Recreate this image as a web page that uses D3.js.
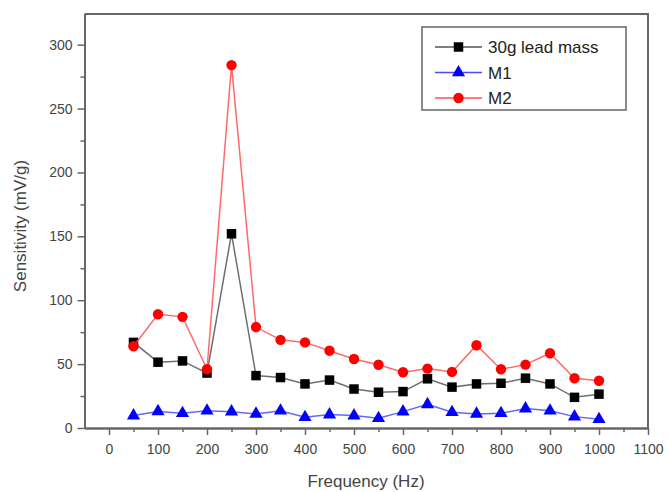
<!DOCTYPE html>
<html><head><meta charset="utf-8">
<script src="https://cdn.jsdelivr.net/npm/d3@7"></script>
<style>body{margin:0;background:#fff;} svg{display:block;font-family:"Liberation Sans",Arial,sans-serif;}</style>
</head><body>
<script>
const freq = [50,100,150,200,250,300,350,400,450,500,550,600,650,700,750,800,850,900,950,1000];
const lead30 = [67,51.5,52.5,43,152,41,39.5,34.5,37.5,30.5,28,28.5,38.5,32,34.5,35,39,34.5,24,26.5];
const m1 = [9.7,13,11.5,13.5,12.8,11,13.5,8.4,10.5,9.7,7.6,12.8,18.5,12.3,11,11.5,15.2,13.5,8.9,6.8];
const m2 = [64,89,87,46,284,79,69,67,60.5,54,49.5,43.6,46.5,43.9,64.8,46,49.6,58.5,38.9,37];
const xTicks = [0,100,200,300,400,500,600,700,800,900,1000,1100];
const yTicks = [0,50,100,150,200,250,300];
const seriesNames = ["30g lead mass","M1","M2"];

const W=669,H=492;
const svg=d3.select("body").append("svg").attr("width",W).attr("height",H);
const x=d3.scaleLinear().domain([-50,1100]).range([84.5,648]);
const y=d3.scaleLinear().domain([0,324]).range([428,14]);
const axisCol="#666", textCol="#444";

// axes
const xa=svg.append("g").attr("transform","translate(0,428)")
  .call(d3.axisBottom(x).tickValues(xTicks).tickSize(7).tickSizeOuter(0).tickFormat(d3.format("d")));
const xm=svg.append("g").attr("transform","translate(0,428)")
  .call(d3.axisBottom(x).tickValues(d3.range(50,1100,100)).tickSize(4).tickFormat("").tickSizeOuter(0));
const ya=svg.append("g").attr("transform","translate(84.5,0)")
  .call(d3.axisLeft(y).tickValues(yTicks).tickSize(7).tickSizeOuter(0));
const ym=svg.append("g").attr("transform","translate(84.5,0)")
  .call(d3.axisLeft(y).tickValues(d3.range(25,324,50)).tickSize(4).tickFormat("").tickSizeOuter(0));
[xa,xm,ya,ym].forEach(g=>{
  g.selectAll("path").attr("stroke",axisCol).attr("stroke-width",2);
  g.selectAll("line").attr("stroke",axisCol).attr("stroke-width",1.5);
  g.selectAll("text").attr("fill",textCol).style("font-size","14px");
});
xa.selectAll("text").attr("dy","1.15em");
ya.selectAll("text").attr("dx","-2");
// top/right frame
svg.append("path").attr("d",`M${x(-50)},${y(324)}H${x(1100)}V${y(0)}`)
  .attr("fill","none").attr("stroke",axisCol).attr("stroke-width",2);

// titles
svg.append("text").attr("x",366).attr("y",487).attr("text-anchor","middle")
  .attr("fill",textCol).style("font-size","17px").text("Frequency (Hz)");
svg.append("text").attr("transform","translate(26,226) rotate(-90)").attr("text-anchor","middle")
  .attr("fill",textCol).style("font-size","17px").text("Sensitivity (mV/g)");

const series=[
  {name:seriesNames[0],vals:lead30,line:"#555",fill:"#000",shape:d3.symbolSquare,size:90},
  {name:seriesNames[1],vals:m1,line:"#4a4aff",fill:"#0000ff",shape:d3.symbolTriangle,size:75},
  {name:seriesNames[2],vals:m2,line:"#ff5050",fill:"#ff0000",shape:d3.symbolCircle,size:85}
];
const line=d3.line().x(d=>x(d[0])).y(d=>y(d[1]));
series.forEach(s=>{
  const pts=freq.map((f,i)=>[f,s.vals[i]]);
  svg.append("path").datum(pts).attr("d",line).attr("fill","none")
    .attr("stroke",s.line).attr("stroke-width",1.5).attr("opacity",0.85);
  svg.append("g").selectAll("path").data(pts).join("path")
    .attr("transform",d=>`translate(${x(d[0])},${y(d[1])})`)
    .attr("d",d3.symbol().type(s.shape).size(s.size)).attr("fill",s.fill);
});

// legend
const lg=svg.append("g");
lg.append("rect").attr("x",422).attr("y",27).attr("width",204).attr("height",83)
  .attr("fill","#fff").attr("stroke",axisCol).attr("stroke-width",1.5);
series.forEach((s,i)=>{
  const yy=47+i*25.5;
  lg.append("line").attr("x1",435).attr("x2",482).attr("y1",yy).attr("y2",yy)
    .attr("stroke",s.line).attr("stroke-width",1.5);
  lg.append("path").attr("transform",`translate(458.5,${yy})`)
    .attr("d",d3.symbol().type(s.shape).size(s.size)).attr("fill",s.fill);
  lg.append("text").attr("x",488).attr("y",yy).attr("dy","0.36em")
    .attr("fill","#222").style("font-size","17px").text(s.name);
});
</script>
</body></html>
